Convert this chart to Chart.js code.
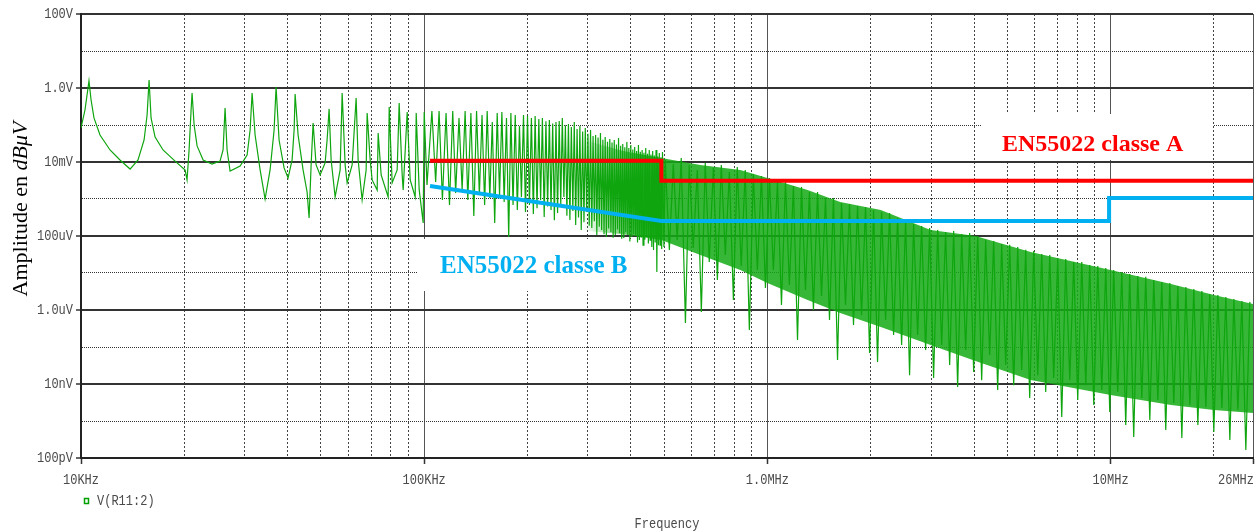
<!DOCTYPE html>
<html>
<head>
<meta charset="utf-8">
<script src="https://cdn.jsdelivr.net/npm/chart.js@4.4.1/dist/chart.umd.min.js"></script>
<style>
  html, body { margin: 0; padding: 0; background: #fff; }
</style>
</head>
<body>
<canvas id="spectre" width="1258" height="532"></canvas>
<script>
// Spectre V(R11:2), amplitude en dBuV (1 V = 120 dBuV)
// raies basses frequences 10 kHz - 100 kHz
const freqBasse = [10000,10270,10550,10700,10910,11360,12150,12990,13900,14660,
  15270,15580,15790,16000,16440,17340,18800,20110,20370,20650,
  20930,21070,21360,21790,22690,24090,25420,25940,26290,26650,
  27190,29080,30480,31100,31520,32160,33260,34390,35560,36530,
  37020,37770,39060,40120,41220,41780,42060,42910,44370,45580,
  46200,46830,47460,48420,49740,51440,52130,52840,53560,55020,
  56900,57670,58840,59630,61670,63340,64200,65940,67740,68200,
  69590,70530,72940,73430,74920,78520,79070,80660,83420,84540,
  86270,86850,89210,91030,94140,94780,96700,99330,100000,101900];
const ampBasse = [98.4,108.1,123.8,113.5,103.8,94.6,86.5,81.1,76.2,81.1,
  91.9,105.4,124.3,103.8,93.5,86.5,80.5,75.7,70.3,86.5,
  108.1,117.3,100,88.7,81.1,78.9,80.5,86.5,109.2,86.5,
  75.1,77.8,83.8,97.3,117.3,94.6,75.7,60,75.7,97.3,
  120.5,91.9,76.8,71.4,81.1,97.3,116.8,94.6,75.7,63.8,
  49.7,78.4,101.1,78.4,73,79.5,91.9,108.7,81.1,61.1,
  75.7,117.3,78.4,68.7,78.4,114.6,81.1,59.5,75.7,106.5,
  81.1,70.3,64.9,95.7,73,61.1,109.7,68.7,75.7,111.9,
  73,64.9,107,70.3,61.1,106.5,64.9,47,107,67.6];

// raies 100 kHz - 500 kHz (pic / creux)
const freqRaies = [105300,108000,110500,113000,115800,118500,121100,123500,126300,129000,
  131600,134000,136800,139500,142100,144800,147400,150000,152600,155300,
  157900,160500,163200,165800,168400,171000,173700,176300,178900,181500,
  184200,186800,189500,192000,194700,197300,200000,202600,205300,208000,
  210500,213200,215800,218400,221000,223700,226300,228900,231600,234200,
  236800,239500,242100,244700,247400,250000,252600,255300,257900,260500,
  263200,265800,268400,271100,273700,276300,278900,281600,284200,286800,
  289500,292100,294700,297400,300000,302600,305300,307900,310500,313200,
  315800,318400,321100,323700,326300,328900,331600,334200,336800,339500,
  342100,344700,347400,350000,352600,355300,357900,360500,363200,365800,
  368400,371100,373700,376300,378900,381600,384200,386800,389500,392100,
  394700,397400,400000,402600,405300,407900,410500,413200,415800,418400,
  421000,423700,426300,428900,431600,434200,436800,439500,442100,444700,
  447400,450000,452600,455300,457900,460500,463200,465800,468400,471100,
  473700,476300,478900,481600,484200,486800,489500,492100,494700,499500];
const ampRaies = [107.6,69.2,107.6,59.5,106.5,56.8,107.6,63.3,103.8,64.9,
  107.6,59.5,106.5,50.8,107.6,62.2,105.4,56.8,107.6,60.5,
  101.6,47,106.5,62.2,107,58.4,103.8,39.5,106.5,56.8,
  105.4,54.1,99.5,61.1,105.4,53,104.9,56.8,103.8,51.9,
  104.9,55.0,103.2,59.5,103.8,50.3,102.0,56.0,102.7,54.1,
  100.8,48.5,101.6,52.4,102.2,57.0,103.8,61.1,99.8,51.0,
  100.5,48.7,98.9,53.5,101.6,46.0,97.8,50.0,99.5,43.2,
  96.5,47.5,98.4,53.0,95.2,45.5,97.3,44.3,94.0,48.0,
  94.6,40.5,93.2,45.0,95.7,43.2,92.0,41.0,93.5,39.5,
  91.0,44.0,92.4,42.2,90.5,39.0,91.9,40.5,89.5,43.5,
  93.0,41.6,88.8,38.5,89.7,38.9,88.0,42.0,90.8,40.5,
  87.5,37.0,89.2,39.5,86.8,41.0,88.1,40.0,86.0,36.5,
  89.2,37.8,85.5,39.0,86.5,35.1,85.0,38.0,87.6,39.5,
  84.5,36.0,86.5,37.8,84.0,34.0,86.0,32.4,83.5,36.5,
  86.5,20.5,83.0,35.0,84.9,35.1,82.5,33.0,85.4,34.0];

// zone dense 500 kHz - 26 MHz
const freqDense = [504e3,518e3,532e3,546e3,561e3,577e3,592e3,608e3,625e3,642e3,
  659e3,677e3,696e3,715e3,734e3,754e3,775e3,796e3,817e3,839e3,
  862e3,886e3,910e3,935e3,961e3,987e3,1.014e6,1.041e6,1.070e6,1.099e6,
  1.129e6,1.159e6,1.191e6,1.224e6,1.257e6,1.291e6,1.326e6,1.362e6,1.400e6,1.438e6,
  1.477e6,1.517e6,1.558e6,1.601e6,1.644e6,1.689e6,1.735e6,1.782e6,1.831e6,1.881e6,
  1.932e6,1.985e6,2.039e6,2.094e6,2.151e6,2.210e6,2.270e6,2.332e6,2.395e6,2.461e6,
  2.528e6,2.596e6,2.667e6,2.740e6,2.814e6,2.891e6,2.970e6,3.050e6,3.134e6,3.219e6,
  3.306e6,3.397e6,3.489e6,3.584e6,3.682e6,3.782e6,3.885e6,3.991e6,4.099e6,4.211e6,
  4.325e6,4.443e6,4.564e6,4.688e6,4.816e6,4.947e6,5.082e6,5.220e6,5.362e6,5.508e6,
  5.658e6,5.812e6,5.970e6,6.133e6,6.300e6,6.471e6,6.648e6,6.828e6,7.014e6,7.206e6,
  7.401e6,7.603e6,7.810e6,8.022e6,8.241e6,8.466e6,8.695e6,8.933e6,9.176e6,9.425e6,
  9.682e6,9.945e6,1.021e7,1.049e7,1.078e7,1.107e7,1.137e7,1.168e7,1.200e7,1.233e7,
  1.266e7,1.301e7,1.336e7,1.373e7,1.410e7,1.448e7,1.488e7,1.528e7,1.570e7,1.613e7,
  1.657e7,1.702e7,1.748e7,1.796e7,1.845e7,1.895e7,1.946e7,1.999e7,2.054e7,2.110e7,
  2.167e7,2.226e7,2.287e7,2.349e7,2.413e7,2.478e7,2.546e7];
const ampDense = [81.1,32.5,78.9,37.9,82.2,-7.0,78.4,33.5,75.7,-1.1,
  79.5,26.0,76.8,16.2,78.4,29.7,74.6,5.4,77.3,23.8,
  75.7,-10.8,73.5,21.6,72.4,11.9,71.4,21.6,69.2,2.7,
  69.7,13.5,67.0,-16.2,66.5,10.8,63.8,0.0,63.8,7.6,
  60.5,-5.4,60.5,-27.0,57.8,2.7,57.3,-8.1,56.2,-2.7,
  55.7,-23.2,54.1,-28.1,53.0,-5.4,52.4,-13.5,49.7,-18.9,
  48.7,-35.2,46.5,-13.5,45.4,-21.6,44.3,-36.7,43.3,-18.9,
  42.2,-29.7,42.7,-41.6,41.1,-21.6,41.6,-33.5,40.0,-37.9,
  37.9,-24.3,37.3,-43.3,35.7,-29.7,35.2,-40.6,34.1,-32.4,
  32.5,-47.6,31.9,-35.2,30.3,-44.3,29.7,-36.7,28.1,-57.8,
  27.6,-37.9,26.0,-48.7,26.0,-40.6,24.3,-51.4,23.8,-43.3,
  22.7,-55.1,21.6,-44.3,20.5,-62.2,19.5,-68.6,18.4,-47.6,
  17.9,-59.5,16.2,-48.7,15.1,-64.9,14.6,-50.3,13.0,-69.2,
  12.4,-51.4,11.4,-62.2,10.3,-52.4,8.7,-65.9,8.1,-52.9,
  7.0,-70.3,6.0,-54.1,4.9,-75.7,4.4];

// enveloppe du paquet de raies (remplissage)
const freqBande = [290e3,380e3,491e3,638e3,834e3,1.0e6,1.31e6,1.63e6,2.14e6,2.99e6,4.04e6,5.85e6,1.0e7,1.5e7,2.0e7,2.6e7];
const bandeHaut = [92.0,86.0,82.2,78.4,75.7,71.4,64.9,58.4,54.1,43.3,40.0,31.4,21.6,14.1,8.1,3.2];
const bandeBas = [43.0,41.0,37.9,29.7,21.6,14.6,5.4,-1.6,-9.2,-18.9,-27.5,-37.9,-46.0,-51.4,-54.1,-55.7];

// gabarits EN55022
const freqClasseA = [104e3,491e3,491e3,2.6e7];
const classeA = [80.7,80.7,69.9,69.9];
const freqClasseB = [104e3,491e3,9.9e6,9.9e6,2.6e7];
const classeB = [67.0,48.1,48.1,60.5,60.5];

// axes
const xEtiquettes = ['10KHz','100KHz','1.0MHz','10MHz','26MHz'];
const xValeursEtiq = [1e4,1e5,1e6,1e7,2.6e7];
const yEtiquettes = ['100V','1.0V','10mV','100uV','1.0uV','10nV','100pV'];
const yValeursEtiq = [160,120,80,40,0,-40,-80];

const xGrille = [];
[1e4,1e5,1e6].forEach(d => { for (let k = 1; k <= 9; k++) xGrille.push(k * d); });
xGrille.push(1e7, 2e7, 2.6e7);
const yGrille = [];
for (let v = -80; v <= 160; v += 20) yGrille.push(v);

const points = (fs, as) => fs.map((f, i) => ({ x: f, y: as[i] }));
const trace = points(freqBasse, ampBasse).concat(points(freqRaies, ampRaies), points(freqDense, ampDense));

const majeurX = v => xValeursEtiq.includes(v);
const pairY = v => yValeursEtiq.includes(v);

// le remplissage apparait progressivement entre 290 kHz et 430 kHz
function couleurBande(c) {
    const chart = c.chart;
    if (!chart.chartArea) return 'rgba(20,170,20,0.85)';
    const sx = chart.scales.x;
    const g = chart.ctx.createLinearGradient(sx.getPixelForValue(2.9e5), 0, sx.getPixelForValue(4.3e5), 0);
    g.addColorStop(0, 'rgba(20,170,20,0)');
    g.addColorStop(1, 'rgba(20,170,20,0.85)');
    return g;
}

function texteMono(ctx, txt, x, y, align) {
    ctx.save();
    ctx.translate(x, y);
    ctx.scale(1, 1.2);
    ctx.font = '12px "Liberation Mono"';
    ctx.fillStyle = '#4a4a4a';
    ctx.textAlign = align;
    ctx.textBaseline = 'middle';
    ctx.fillText(txt, 0, 0);
    ctx.restore();
}

const decor = {
    id: 'decor',
    beforeDatasetsDraw(chart) {
        const ctx = chart.ctx;
        ctx.save();
        ctx.fillStyle = '#ffffff';
        ctx.fillRect(982, 114, 231, 46);   // cadre classe A
        ctx.fillRect(418, 239, 242, 52);   // cadre classe B
        ctx.restore();
    },
    afterDraw(chart) {
        const ctx = chart.ctx;
        const sx = chart.scales.x, sy = chart.scales.y;

        yEtiquettes.forEach((t, i) => texteMono(ctx, t, 73, sy.getPixelForValue(yValeursEtiq[i]), 'right'));
        xEtiquettes.forEach((t, i) => {
            const dernier = i === xEtiquettes.length - 1;
            texteMono(ctx, t, sx.getPixelForValue(xValeursEtiq[i]) + (dernier ? 1 : 0), 480, dernier ? 'right' : 'center');
        });

        // legende
        ctx.save();
        ctx.strokeStyle = '#00a000';
        ctx.lineWidth = 1.5;
        ctx.strokeRect(84.5, 498.5, 4, 5);
        ctx.restore();
        texteMono(ctx, 'V(R11:2)', 97, 501, 'left');
        texteMono(ctx, 'Frequency', (chart.chartArea.left + chart.chartArea.right) / 2, 524, 'center');

        // titre axe Y
        ctx.save();
        ctx.translate(27, 209);
        ctx.rotate(-Math.PI / 2);
        ctx.fillStyle = '#000';
        ctx.textBaseline = 'alphabetic';
        ctx.textAlign = 'left';
        const f1 = '22px "Liberation Serif"', f2 = 'italic 22px "Liberation Serif"';
        ctx.font = f1;
        const w1 = ctx.measureText('Amplitude en ').width;
        ctx.font = f2;
        const w2 = ctx.measureText('dBμV').width;
        const x0 = -(w1 + w2) / 2;
        ctx.font = f1;
        ctx.fillText('Amplitude en ', x0, 0);
        ctx.font = f2;
        ctx.fillText('dBμV', x0 + w1, 0);
        ctx.restore();

        // noms des gabarits
        ctx.save();
        ctx.textBaseline = 'alphabetic';
        ctx.textAlign = 'left';
        ctx.font = 'bold 24px "Liberation Serif"';
        ctx.fillStyle = '#ff0000';
        ctx.fillText('EN55022 classe A', 1002, 151);
        ctx.font = 'bold 25px "Liberation Serif"';
        ctx.fillStyle = '#00b0f0';
        ctx.fillText('EN55022 classe B', 440, 273);
        ctx.restore();
    }
};

new Chart(document.getElementById('spectre'), {
    type: 'line',
    data: {
        datasets: [
            {
                label: 'EN55022 classe A',
                data: points(freqClasseA, classeA),
                borderColor: '#ff0000',
                borderWidth: 4,
                borderJoinStyle: 'miter',
                pointRadius: 0
            },
            {
                label: 'EN55022 classe B',
                data: points(freqClasseB, classeB),
                borderColor: '#00b0f0',
                borderWidth: 4,
                borderJoinStyle: 'miter',
                pointRadius: 0
            },
            {
                label: 'V(R11:2)',
                data: trace,
                borderColor: '#0ea50e',
                borderWidth: 1.2,
                pointRadius: 0
            },
            {
                label: 'haut',
                data: points(freqBande, bandeHaut),
                borderColor: 'rgba(0,0,0,0)',
                borderWidth: 0,
                pointRadius: 0,
                fill: false
            },
            {
                label: 'bas',
                data: points(freqBande, bandeBas),
                borderColor: 'rgba(0,0,0,0)',
                borderWidth: 0,
                pointRadius: 0,
                backgroundColor: couleurBande,
                fill: '-1'
            }
        ]
    },
    options: {
        responsive: false,
        animation: false,
        events: [],
        layout: { padding: { top: 14, right: 5, left: 0, bottom: 0 } },
        elements: { line: { tension: 0 } },
        plugins: {
            legend: { display: false },
            tooltip: { enabled: false }
        },
        scales: {
            x: {
                type: 'logarithmic',
                min: 1e4,
                max: 2.6e7,
                afterBuildTicks: s => { s.ticks = xGrille.map(v => ({ value: v })); },
                afterFit: s => { s.height = 74; s.paddingLeft = 0; s.paddingRight = 0; },
                ticks: { display: false },
                grid: {
                    color: c => (c.tick && majeurX(c.tick.value)) ? '#555' : '#444',
                    lineWidth: 1,
                    tickLength: 6,
                    tickWidth: 1.5,
                    tickColor: c => (c.tick && majeurX(c.tick.value)) ? '#333' : 'rgba(0,0,0,0)'
                },
                border: {
                    display: true,
                    color: '#222',
                    width: 2,
                    dash: c => (c.tick && !majeurX(c.tick.value)) ? [2, 2] : []
                }
            },
            y: {
                type: 'linear',
                min: -80,
                max: 160,
                afterBuildTicks: s => { s.ticks = yGrille.map(v => ({ value: v })); },
                afterFit: s => { s.width = 81; },
                ticks: { display: false },
                grid: {
                    color: '#333',
                    lineWidth: c => (c.tick && pairY(c.tick.value)) ? 2 : 1,
                    tickLength: 5,
                    tickWidth: 1.5,
                    tickColor: c => (c.tick && pairY(c.tick.value)) ? '#333' : 'rgba(0,0,0,0)'
                },
                border: {
                    display: true,
                    color: '#222',
                    width: 2,
                    dash: c => (c.tick && !pairY(c.tick.value)) ? [1, 1] : []
                }
            }
        }
    },
    plugins: [decor]
});
</script>
</body>
</html>
